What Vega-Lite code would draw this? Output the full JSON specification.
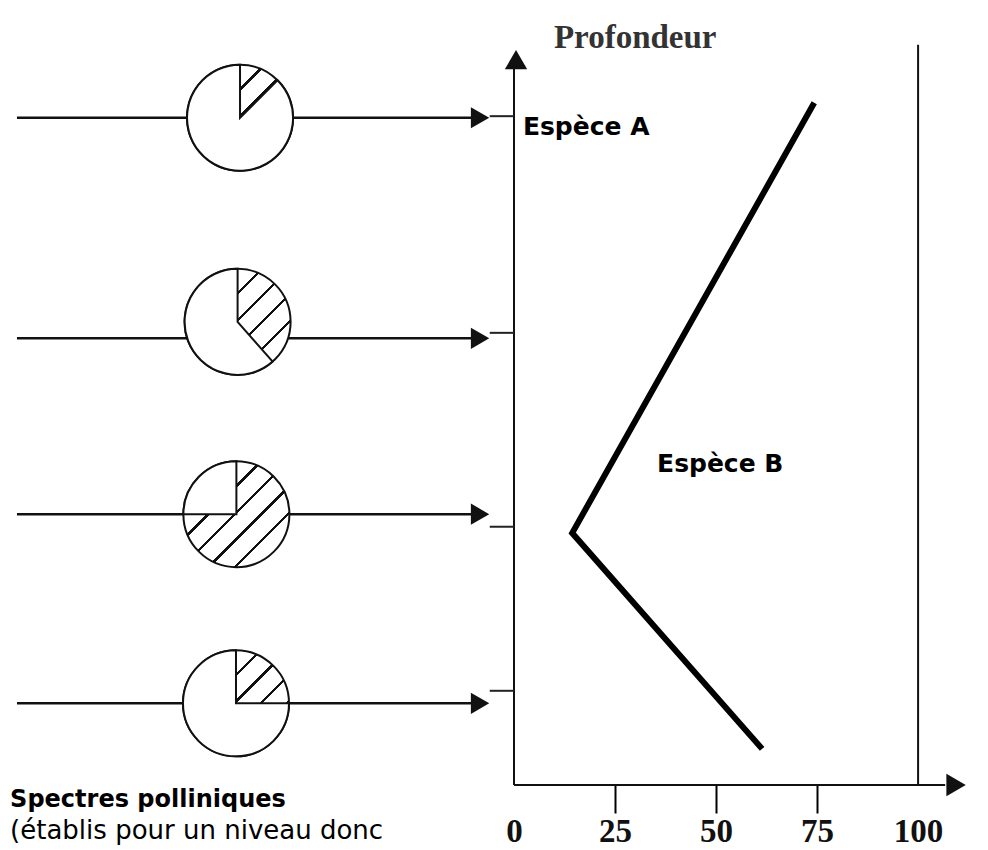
{
  "$schema": "https://vega.github.io/schema/vega-lite/v6.json",
  "width": 988,
  "height": 785,
  "autosize": {"type": "none"},
  "padding": {"left": 0, "top": 0, "right": 0, "bottom": 65},
  "background": "white",
  "config": {
    "view": {"stroke": null},
    "axisX": {
      "domain": false,
      "grid": false,
      "tickColor": "black",
      "tickWidth": 2,
      "tickSize": 28,
      "labelColor": "#111",
      "labelFont": "Liberation Serif",
      "labelFontSize": 33,
      "labelFontWeight": "bold",
      "labelPadding": 2,
      "labelFlush": false,
      "labelOverlap": false
    }
  },
  "datasets": {
    "pies": [
      {"niveau": 1, "x": -67.8, "y": 85.0, "hachure": 12.5, "total": 100, "yfleche": 85.0, "ytick": 85.2},
      {"niveau": 2, "x": -68.4, "y": 59.0, "hachure": 38.5, "total": 100, "yfleche": 56.9, "ytick": 57.6},
      {"niveau": 3, "x": -68.7, "y": 34.5, "hachure": 75, "total": 100, "yfleche": 34.5, "ytick": 32.9},
      {"niveau": 4, "x": -68.8, "y": 10.4, "hachure": 25, "total": 100, "yfleche": 10.4, "ytick": 12.0}
    ],
    "axes": [
      {"nom": "abscisse", "x": 0, "x2": 106.7, "y": 0, "y2": 0},
      {"nom": "profondeur", "x": 0, "x2": 0, "y": 0, "y2": 92},
      {"nom": "cent", "x": 100, "x2": 100, "y": 0, "y2": 94.3}
    ],
    "especeB": [
      {"ordre": 1, "pourcentage": 74.3, "profondeur": 86.9},
      {"ordre": 2, "pourcentage": 14.4, "profondeur": 32.1},
      {"ordre": 3, "pourcentage": 61.4, "profondeur": 4.6}
    ]
  },
  "layer": [
    {
      "data": {"name": "axes"},
      "mark": {"type": "rule", "color": "#111", "strokeWidth": 2},
      "encoding": {
        "x": {
          "field": "x", "type": "quantitative",
          "scale": {"domain": [-127.2, 117.3], "nice": false, "zero": false},
          "axis": {
            "values": [0, 25, 50, 75, 100],
            "title": null,
            "tickOpacity": {"condition": {"test": "datum.value == 0 || datum.value == 100", "value": 0}, "value": 1}
          }
        },
        "x2": {"field": "x2"},
        "y": {"field": "y", "type": "quantitative", "scale": {"domain": [0, 100], "nice": false, "zero": false}, "axis": null},
        "y2": {"field": "y2"}
      }
    },
    {
      "data": {"name": "pies"},
      "mark": {"type": "rule", "color": "#111", "strokeWidth": 2.5},
      "encoding": {
        "x": {"datum": -123, "type": "quantitative"},
        "x2": {"datum": -8},
        "y": {"field": "yfleche", "type": "quantitative", "axis": null}
      }
    },
    {
      "data": {"name": "pies"},
      "mark": {"type": "rule", "color": "#222", "strokeWidth": 2},
      "encoding": {
        "x": {"datum": -6, "type": "quantitative"},
        "x2": {"datum": 0},
        "y": {"field": "ytick", "type": "quantitative", "axis": null}
      }
    },
    {
      "data": {"name": "pies"},
      "mark": {"type": "point", "shape": "triangle-right", "filled": true, "color": "#111", "size": 450, "opacity": 1},
      "encoding": {
        "x": {"datum": -8.4, "type": "quantitative"},
        "y": {"field": "yfleche", "type": "quantitative", "axis": null}
      }
    },
    {
      "data": {"values": [{"x": 109.4, "y": 0}]},
      "mark": {"type": "point", "shape": "triangle-right", "filled": true, "color": "#111", "size": 500, "opacity": 1},
      "encoding": {
        "x": {"field": "x", "type": "quantitative"},
        "y": {"field": "y", "type": "quantitative", "axis": null}
      }
    },
    {
      "data": {"values": [{"x": 0.5, "y": 92.4}]},
      "mark": {"type": "point", "shape": "triangle-up", "filled": true, "color": "#111", "size": 500, "opacity": 1},
      "encoding": {
        "x": {"field": "x", "type": "quantitative"},
        "y": {"field": "y", "type": "quantitative", "axis": null}
      }
    },
    {
      "data": {"name": "pies"},
      "mark": {
        "type": "arc",
        "radius": 53,
        "theta": 0,
        "theta2": 6.2832,
        "stroke": "#111",
        "strokeWidth": 2,
        "fill": {
          "gradient": "linear",
          "x1": 0, "y1": 0, "x2": 1, "y2": 1,
          "stops": [
            {"offset": 0, "color": "white"},
            {"offset": 0.109, "color": "white"}, {"offset": 0.109, "color": "#111"}, {"offset": 0.125, "color": "#111"}, {"offset": 0.125, "color": "white"},
            {"offset": 0.234, "color": "white"}, {"offset": 0.234, "color": "#111"}, {"offset": 0.25, "color": "#111"}, {"offset": 0.25, "color": "white"},
            {"offset": 0.359, "color": "white"}, {"offset": 0.359, "color": "#111"}, {"offset": 0.375, "color": "#111"}, {"offset": 0.375, "color": "white"},
            {"offset": 0.484, "color": "white"}, {"offset": 0.484, "color": "#111"}, {"offset": 0.5, "color": "#111"}, {"offset": 0.5, "color": "white"},
            {"offset": 0.609, "color": "white"}, {"offset": 0.609, "color": "#111"}, {"offset": 0.625, "color": "#111"}, {"offset": 0.625, "color": "white"},
            {"offset": 0.734, "color": "white"}, {"offset": 0.734, "color": "#111"}, {"offset": 0.75, "color": "#111"}, {"offset": 0.75, "color": "white"},
            {"offset": 0.859, "color": "white"}, {"offset": 0.859, "color": "#111"}, {"offset": 0.875, "color": "#111"}, {"offset": 0.875, "color": "white"},
            {"offset": 1, "color": "white"}
          ]
        }
      },
      "encoding": {
        "x": {"field": "x", "type": "quantitative"},
        "y": {"field": "y", "type": "quantitative", "axis": null}
      }
    },
    {
      "data": {"name": "pies"},
      "mark": {"type": "arc", "radius": 53, "fill": "white", "stroke": "#111", "strokeWidth": 2, "strokeJoin": "miter"},
      "encoding": {
        "x": {"field": "x", "type": "quantitative"},
        "y": {"field": "y", "type": "quantitative", "axis": null},
        "theta": {"field": "hachure", "type": "quantitative", "scale": {"domain": [0, 100], "range": [0, 6.2832]}},
        "theta2": {"field": "total"}
      }
    },
    {
      "data": {"name": "especeB"},
      "mark": {"type": "line", "color": "black", "strokeWidth": 6, "strokeCap": "butt", "strokeJoin": "miter"},
      "encoding": {
        "x": {"field": "pourcentage", "type": "quantitative"},
        "y": {"field": "profondeur", "type": "quantitative", "axis": null},
        "order": {"field": "ordre"}
      }
    },
    {
      "data": {"values": [{"texte": "Profondeur", "x": 30, "y": 93.9}]},
      "mark": {"type": "text", "font": "Liberation Serif", "fontWeight": "bold", "fontSize": 33, "color": "#333", "align": "center", "baseline": "alphabetic"},
      "encoding": {
        "x": {"field": "x", "type": "quantitative"},
        "y": {"field": "y", "type": "quantitative", "axis": null},
        "text": {"field": "texte"}
      }
    },
    {
      "data": {"values": [{"texte": "Espèce A", "x": 2.2, "y": 82.8}, {"texte": "Espèce B", "x": 35.4, "y": 39.9}]},
      "mark": {"type": "text", "font": "DejaVu Sans", "fontWeight": "bold", "fontSize": 25, "color": "black", "align": "left", "baseline": "alphabetic"},
      "encoding": {
        "x": {"field": "x", "type": "quantitative"},
        "y": {"field": "y", "type": "quantitative", "axis": null},
        "text": {"field": "texte"}
      }
    },
    {
      "data": {"values": [{"texte": "Spectres polliniques", "x": -124.7, "y": -2.8}]},
      "mark": {"type": "text", "font": "DejaVu Sans", "fontWeight": "bold", "fontSize": 24, "color": "black", "align": "left", "baseline": "alphabetic"},
      "encoding": {
        "x": {"field": "x", "type": "quantitative"},
        "y": {"field": "y", "type": "quantitative", "axis": null},
        "text": {"field": "texte"}
      }
    },
    {
      "data": {"values": [{"texte": "(établis pour un niveau donc", "x": -124.7, "y": -6.9}]},
      "mark": {"type": "text", "font": "DejaVu Sans", "fontWeight": "normal", "fontSize": 26, "color": "black", "align": "left", "baseline": "alphabetic"},
      "encoding": {
        "x": {"field": "x", "type": "quantitative"},
        "y": {"field": "y", "type": "quantitative", "axis": null},
        "text": {"field": "texte"}
      }
    }
  ]
}
